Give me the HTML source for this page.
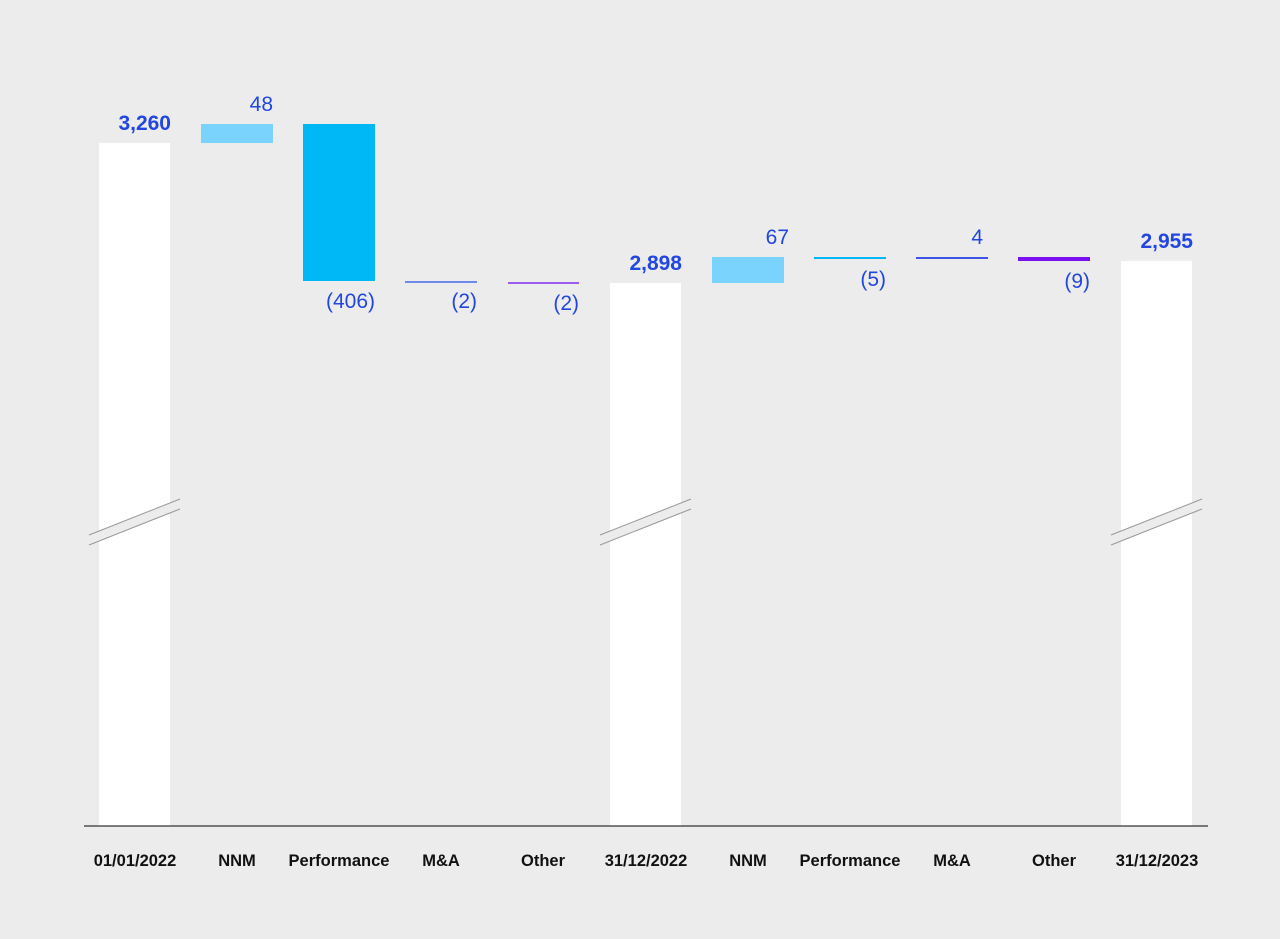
<!DOCTYPE html>
<html><head><style>
body{margin:0;background:#ececec;}
svg{display:block;font-family:"Liberation Sans",Arial,sans-serif;}
</style></head><body>
<svg width="1280" height="939" viewBox="0 0 1280 939">
<rect width="1280" height="939" fill="#ececec"/>
<rect x="99" y="143" width="71" height="683" fill="#fff"/>
<rect x="610" y="283" width="71" height="543" fill="#fff"/>
<rect x="1121" y="261" width="71" height="565" fill="#fff"/>
<g>
<polygon points="89,535 180,499 180,509 89,545" fill="#ececec"/>
<line x1="89" y1="535" x2="180" y2="499" stroke="#999" stroke-width="1"/>
<line x1="89" y1="545" x2="180" y2="509" stroke="#999" stroke-width="1"/>
<polygon points="600,535 691,499 691,509 600,545" fill="#ececec"/>
<line x1="600" y1="535" x2="691" y2="499" stroke="#999" stroke-width="1"/>
<line x1="600" y1="545" x2="691" y2="509" stroke="#999" stroke-width="1"/>
<polygon points="1111,535 1202,499 1202,509 1111,545" fill="#ececec"/>
<line x1="1111" y1="535" x2="1202" y2="499" stroke="#999" stroke-width="1"/>
<line x1="1111" y1="545" x2="1202" y2="509" stroke="#999" stroke-width="1"/>
</g>
<rect x="201" y="124" width="72" height="19" fill="#7ad3fc"/>
<rect x="303" y="124" width="72" height="157" fill="#00b8f5"/>
<rect x="405" y="281" width="72" height="2" fill="#6f8ae8"/>
<rect x="508" y="282" width="71" height="2" fill="#9b5cf0"/>
<rect x="712" y="257" width="72" height="26" fill="#7ad3fc"/>
<rect x="814" y="257" width="72" height="2" fill="#00b8f5"/>
<rect x="916" y="257" width="72" height="2" fill="#3d55e6"/>
<rect x="1018" y="257" width="72" height="4" fill="#7a10f0"/>
<line x1="84" y1="826" x2="1208" y2="826" stroke="#333" stroke-width="1.2"/>
<g fill="#2246e0" font-size="21" text-anchor="end">
<text x="171" y="130" font-weight="bold">3,260</text>
<text x="682" y="270" font-weight="bold">2,898</text>
<text x="1193" y="248" font-weight="bold">2,955</text>
<text x="273" y="111">48</text>
<text x="375" y="308">(406)</text>
<text x="477" y="308">(2)</text>
<text x="579" y="310">(2)</text>
<text x="789" y="244">67</text>
<text x="886" y="286">(5)</text>
<text x="983" y="244">4</text>
<text x="1090" y="288">(9)</text>
</g>
<g fill="#111" font-size="16.5" font-weight="bold" text-anchor="middle">
<text x="135" y="866">01/01/2022</text>
<text x="237" y="866">NNM</text>
<text x="339" y="866">Performance</text>
<text x="441" y="866">M&amp;A</text>
<text x="543" y="866">Other</text>
<text x="646" y="866">31/12/2022</text>
<text x="748" y="866">NNM</text>
<text x="850" y="866">Performance</text>
<text x="952" y="866">M&amp;A</text>
<text x="1054" y="866">Other</text>
<text x="1157" y="866">31/12/2023</text>
</g>
</svg>
</body></html>
